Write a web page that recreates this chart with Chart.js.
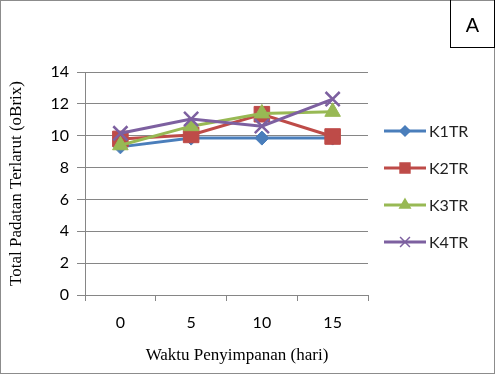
<!DOCTYPE html>
<html>
<head>
<meta charset="utf-8">
<script src="https://cdn.jsdelivr.net/npm/chart.js@4"></script>
<style>
  body { margin: 0; background: #fff; }
  #wrap { position: relative; width: 495px; height: 374px; }
  #frame { position: absolute; left: 0; top: 0; width: 493px; height: 372px; border: 1px solid #8c8c8c; }
  #tag { position: absolute; left: 450px; top: 0; width: 43px; height: 47px; border: 1px solid #000; border-top: none;
         font: 20px "Liberation Sans", Arial, sans-serif; text-align: center; line-height: 50px; }
</style>
</head>
<body>
<div id="wrap">
  <canvas id="chart" width="495" height="374"></canvas>
  <div id="frame"></div>
  <div id="tag">A</div>
</div>
<script>
const days = ['0', '5', '10', '15'];
const k1tr = [9.3, 9.85, 9.85, 9.85];
const k2tr = [9.8, 10.05, 11.35, 9.95];
const k3tr = [9.4, 10.6, 11.4, 11.5];
const k4tr = [10.15, 11.05, 10.6, 12.3];

const series = [
  { label: 'K1TR', data: k1tr, color: '#4a7ebb', style: 'rectRot', r: 7, lr: 5 },
  { label: 'K2TR', data: k2tr, color: '#be4b48', style: 'rect', r: 11, lr: 7 },
  { label: 'K3TR', data: k3tr, color: '#98b954', style: 'triangle', r: 9, lr: 6 },
  { label: 'K4TR', data: k4tr, color: '#7d60a0', style: 'crossRot', r: 10, lr: 7 }
];

// legend on the right (line + marker + name) and the x axis title, drawn on the canvas
const sideLegend = {
  id: 'sideLegend',
  afterDraw(chart) {
    const ctx = chart.ctx;
    ctx.save();
    series.forEach(function(s, i) {
      const y = 131 + i * 37;
      ctx.strokeStyle = s.color;
      ctx.lineWidth = 3;
      ctx.beginPath();
      ctx.moveTo(384, y);
      ctx.lineTo(426, y);
      ctx.stroke();
      ctx.fillStyle = s.color;
      ctx.lineWidth = 1.5;
      Chart.helpers.drawPoint(ctx, { pointStyle: s.style, radius: s.lr, borderWidth: 1.5 }, 405, y);
      ctx.fillStyle = '#222';
      ctx.font = '16px Lato, "Liberation Sans", sans-serif';
      ctx.textAlign = 'left';
      ctx.textBaseline = 'middle';
      ctx.fillText(s.label, 429, y + 1);
    });
    ctx.fillStyle = '#000';
    ctx.font = '17px "Liberation Serif", "Times New Roman", serif';
    ctx.textAlign = 'center';
    ctx.textBaseline = 'middle';
    ctx.fillText('Waktu Penyimpanan (hari)', 237, 356);
    ctx.restore();
  }
};

new Chart(document.getElementById('chart').getContext('2d'), {
  type: 'line',
  data: {
    labels: days,
    datasets: series.map(function(s, i) {
      return {
        label: s.label,
        data: s.data,
        borderColor: s.color,
        backgroundColor: s.color,
        borderWidth: 3,
        pointStyle: s.style,
        pointRadius: s.r,
        pointBorderWidth: s.style === 'crossRot' ? 2.5 : 1,
        pointBorderColor: s.color,
        tension: 0,
        order: 3 - i
      };
    })
  },
  options: {
    responsive: false,
    animation: false,
    layout: { padding: { left: 0, top: 72, right: 127, bottom: 0 } },
    plugins: { legend: { display: false }, tooltip: { enabled: false } },
    scales: {
      x: {
        offset: true,
        afterFit: function(s) { s.height = 79; },
        grid: { drawOnChartArea: false, drawTicks: true, tickLength: 6, offset: true, color: '#868686' },
        border: { color: '#868686' },
        ticks: { color: '#000', padding: 12, font: { family: 'Lato, "Liberation Sans", sans-serif', size: 16 } },
        title: { display: false }
      },
      y: {
        min: 0,
        max: 14,
        afterFit: function(s) { s.width = 85; },
        grid: { color: '#868686', tickLength: 8 },
        border: { color: '#868686' },
        ticks: { stepSize: 2, color: '#000', padding: 8, font: { family: 'Lato, "Liberation Sans", sans-serif', size: 16 } },
        title: { display: true, text: 'Total Padatan Terlarut (oBrix)', color: '#000', padding: { top: 6, bottom: 4 },
                 font: { family: '"Liberation Serif", "Times New Roman", serif', size: 17 } }
      }
    }
  },
  plugins: [sideLegend]
});
</script>
</body>
</html>
